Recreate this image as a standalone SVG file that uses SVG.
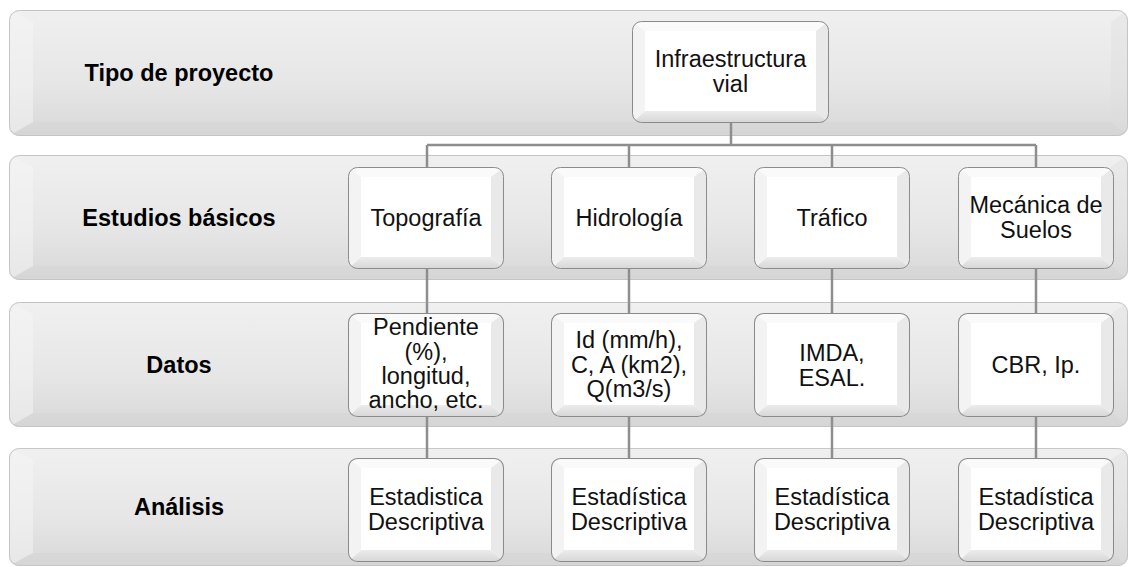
<svg xmlns="http://www.w3.org/2000/svg" xmlns:xlink="http://www.w3.org/1999/xlink" width="1129" height="567" viewBox="0 0 1129 567">
<style>
.lbl{font-family:"Liberation Sans",Arial,sans-serif;font-weight:bold;font-size:23.5px;fill:#000;text-anchor:middle}
.txt{font-family:"Liberation Sans",Arial,sans-serif;font-size:23.5px;fill:#111;text-anchor:middle}
.con{stroke:#8e8e8e;stroke-width:2.5;fill:none}
</style>
<defs>
<linearGradient id="bandG" x1="0" y1="0" x2="0" y2="1">
<stop offset="0" stop-color="#f0f0f0"/>
<stop offset="0.6" stop-color="#e6e6e6"/>
<stop offset="1" stop-color="#d8d8d8"/>
</linearGradient>
<linearGradient id="botG" x1="0" y1="0" x2="0" y2="1">
<stop offset="0" stop-color="#ececec"/>
<stop offset="1" stop-color="#d6d6d6"/>
</linearGradient>
<clipPath id="nclip"><rect x="0.5" y="0.5" width="155" height="102" rx="9"/></clipPath>
<clipPath id="tclip"><rect x="0.5" y="0.5" width="196" height="101" rx="9"/></clipPath>
<clipPath id="bclip"><rect x="0" y="0" width="1119" height="126" rx="10"/></clipPath>
<symbol id="node" viewBox="0 0 156 103" preserveAspectRatio="none">
<g clip-path="url(#nclip)">
<rect x="0" y="0" width="156" height="103" fill="#fff"/>
<polygon points="0,0 156,0 143,10 13,10" fill="#fafafa"/>
<polygon points="0,0 13,10 13,91 0,103" fill="#f3f3f3"/>
<polygon points="156,0 156,103 143,91 143,10" fill="#e9e9e9"/>
<polygon points="0,103 156,103 143,91 13,91" fill="url(#botG)"/>
</g>
<rect x="0.5" y="0.5" width="155" height="102" rx="9" fill="none" stroke="#8a8a8a" stroke-width="1"/>
</symbol>
<symbol id="topnode" viewBox="0 0 197 102" preserveAspectRatio="none">
<g clip-path="url(#tclip)">
<rect x="0" y="0" width="197" height="102" fill="#fff"/>
<polygon points="0,0 197,0 184,10 13,10" fill="#fafafa"/>
<polygon points="0,0 13,10 13,90 0,102" fill="#f3f3f3"/>
<polygon points="197,0 197,102 184,90 184,10" fill="#e9e9e9"/>
<polygon points="0,102 197,102 184,90 13,90" fill="url(#botG)"/>
</g>
<rect x="0.5" y="0.5" width="196" height="101" rx="9" fill="none" stroke="#8a8a8a" stroke-width="1"/>
</symbol>
<symbol id="band" viewBox="0 0 1119 126" preserveAspectRatio="none">
<g clip-path="url(#bclip)">
<rect x="0" y="0" width="1119" height="126" fill="url(#bandG)"/>
<polygon points="0,0 24,12 24,112 0,126" fill="#f6f6f6" opacity="0.5"/>
<polygon points="1119,0 1119,126 1102,112 1102,12" fill="#dcdcdc" opacity="0.35"/>
<polygon points="0,126 1119,126 1102,112 24,112" fill="#d0d0d0" opacity="0.3"/>
</g>
<rect x="0.5" y="0.5" width="1118" height="125" rx="10" fill="none" stroke="#c4c4c4" stroke-width="1"/>
</symbol>
</defs>

<g id="band-tipo">
<use xlink:href="#band" x="9" y="10" width="1119" height="126"/>
<text class="lbl" x="179" y="81">Tipo de proyecto</text>
</g>
<g id="band-estudios">
<use xlink:href="#band" x="9" y="155" width="1119" height="125"/>
<text class="lbl" x="179" y="226">Estudios básicos</text>
</g>
<g id="band-datos">
<use xlink:href="#band" x="9" y="302" width="1119" height="125"/>
<text class="lbl" x="179" y="373">Datos</text>
</g>
<g id="band-analisis">
<use xlink:href="#band" x="9" y="448" width="1119" height="118"/>
<text class="lbl" x="179" y="515">Análisis</text>
</g>

<g id="connectors">
<path class="con" d="M731,123 V145 M427,145 H1036 M427,145 V167 M629,145 V167 M832,145 V167 M1036,145 V167"/>
<path class="con" d="M427,269 V313 M629,269 V313 M832,269 V313 M1036,269 V313"/>
<path class="con" d="M427,417 V458 M629,417 V458 M832,417 V458 M1036,417 V458"/>
</g>

<g id="n-infra">
<use xlink:href="#topnode" x="632" y="21" width="197" height="102"/>
<text class="txt" x="730.5" y="67">Infraestructura</text>
<text class="txt" x="730.5" y="92">vial</text>
</g>

<g id="n-topografia">
<use xlink:href="#node" x="348" y="167" width="156" height="102"/>
<text class="txt" x="426" y="226">Topografía</text>
</g>
<g id="n-hidrologia">
<use xlink:href="#node" x="551" y="167" width="156" height="102"/>
<text class="txt" x="629" y="226">Hidrología</text>
</g>
<g id="n-trafico">
<use xlink:href="#node" x="754" y="167" width="156" height="102"/>
<text class="txt" x="832" y="226">Tráfico</text>
</g>
<g id="n-mecanica">
<use xlink:href="#node" x="958" y="167" width="156" height="102"/>
<text class="txt" x="1036" y="213">Mecánica de</text>
<text class="txt" x="1036" y="238">Suelos</text>
</g>

<g id="n-pendiente">
<use xlink:href="#node" x="348" y="313" width="156" height="104"/>
<text class="txt" x="426" y="335">Pendiente</text>
<text class="txt" x="426" y="360">(%),</text>
<text class="txt" x="426" y="384">longitud,</text>
<text class="txt" x="426" y="408">ancho, etc.</text>
</g>
<g id="n-id">
<use xlink:href="#node" x="551" y="313" width="156" height="104"/>
<text class="txt" x="629" y="348">Id (mm/h),</text>
<text class="txt" x="629" y="373">C, A (km2),</text>
<text class="txt" x="629" y="397">Q(m3/s)</text>
</g>
<g id="n-imda">
<use xlink:href="#node" x="754" y="313" width="156" height="104"/>
<text class="txt" x="832" y="361">IMDA,</text>
<text class="txt" x="832" y="386">ESAL.</text>
</g>
<g id="n-cbr">
<use xlink:href="#node" x="958" y="313" width="156" height="104"/>
<text class="txt" x="1036" y="373">CBR, Ip.</text>
</g>

<g id="n-est1">
<use xlink:href="#node" x="348" y="458" width="156" height="104"/>
<text class="txt" x="426" y="505">Estadistica</text>
<text class="txt" x="426" y="530">Descriptiva</text>
</g>
<g id="n-est2">
<use xlink:href="#node" x="551" y="458" width="156" height="104"/>
<text class="txt" x="629" y="505">Estadística</text>
<text class="txt" x="629" y="530">Descriptiva</text>
</g>
<g id="n-est3">
<use xlink:href="#node" x="754" y="458" width="156" height="104"/>
<text class="txt" x="832" y="505">Estadística</text>
<text class="txt" x="832" y="530">Descriptiva</text>
</g>
<g id="n-est4">
<use xlink:href="#node" x="958" y="458" width="156" height="104"/>
<text class="txt" x="1036" y="505">Estadística</text>
<text class="txt" x="1036" y="530">Descriptiva</text>
</g>
</svg>
